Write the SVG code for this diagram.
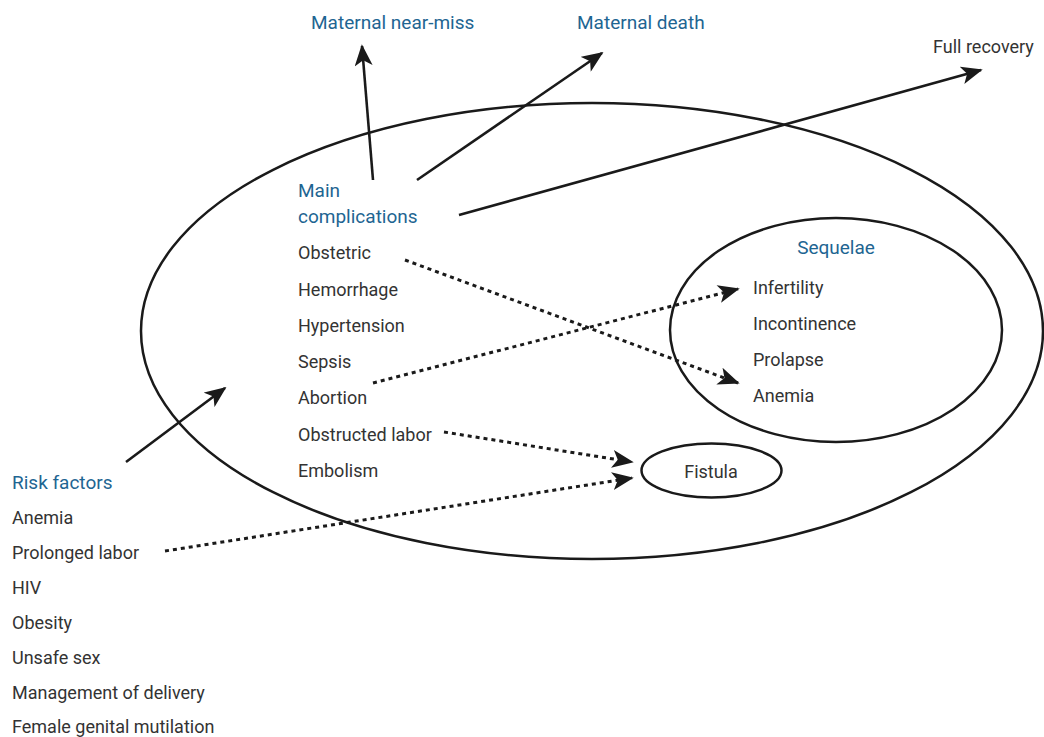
<svg xmlns="http://www.w3.org/2000/svg" width="1044" height="737" viewBox="0 0 1044 737">
<style>
.t{font-family:"Liberation Sans Narrow","Roboto","Liberation Sans",sans-serif;font-size:18px;fill:#333}
.b{font-family:"Liberation Sans Narrow","Roboto","Liberation Sans",sans-serif;font-size:19px;fill:#1e6592}
.e{fill:none;stroke:#1a1a1a;stroke-width:2.5}
.s{fill:none;stroke:#1a1a1a;stroke-width:2.6}
.d{fill:none;stroke:#1a1a1a;stroke-width:3;stroke-dasharray:4 4}
</style>
<defs>
<marker id="ah" viewBox="0 0 12 10" refX="11" refY="5" markerWidth="10" markerHeight="8" markerUnits="userSpaceOnUse" orient="auto">
<path d="M0,0 L12,5 L0,10 L3,5 Z" fill="#1a1a1a"/>
</marker>
<marker id="ahb" viewBox="0 0 12 10" refX="11" refY="5" markerWidth="22" markerHeight="18" markerUnits="userSpaceOnUse" orient="auto">
<path d="M0,0 L12,5 L0,10 L3,5 Z" fill="#1a1a1a"/>
</marker>
</defs>
<g id="outer"><ellipse class="e" cx="592" cy="331" rx="451" ry="228"/></g>
<g id="sequelae"><ellipse class="e" cx="836" cy="330" rx="166" ry="112"/>
<text class="b" x="836" y="254" text-anchor="middle">Sequelae</text>
<text class="t" x="753" y="294">Infertility</text>
<text class="t" x="753" y="330">Incontinence</text>
<text class="t" x="753" y="366">Prolapse</text>
<text class="t" x="753" y="402">Anemia</text>
</g>
<g id="fistula"><ellipse class="e" cx="711.5" cy="470.5" rx="70" ry="27"/>
<text class="t" x="711" y="478" text-anchor="middle">Fistula</text></g>
<g id="near-miss"><text class="b" x="311" y="29">Maternal near-miss</text></g>
<g id="death"><text class="b" x="577" y="29">Maternal death</text></g>
<g id="recovery"><text class="t" x="933" y="53">Full recovery</text></g>
<g id="complications">
<text class="b" x="298" y="197">Main</text>
<text class="b" x="298" y="223">complications</text>
<text class="t" x="298" y="259">Obstetric</text>
<text class="t" x="298" y="296">Hemorrhage</text>
<text class="t" x="298" y="332">Hypertension</text>
<text class="t" x="298" y="368">Sepsis</text>
<text class="t" x="298" y="404">Abortion</text>
<text class="t" x="298" y="441">Obstructed labor</text>
<text class="t" x="298" y="477">Embolism</text>
</g>
<g id="risk">
<text class="b" x="12" y="489">Risk factors</text>
<text class="t" x="12" y="524">Anemia</text>
<text class="t" x="12" y="559">Prolonged labor</text>
<text class="t" x="12" y="594">HIV</text>
<text class="t" x="12" y="629">Obesity</text>
<text class="t" x="12" y="664">Unsafe sex</text>
<text class="t" x="12" y="699">Management of delivery</text>
<text class="t" x="12" y="733">Female genital mutilation</text>
</g>
<g id="connectors">
<line class="s" x1="373" y1="180" x2="362" y2="46" marker-end="url(#ahb)"/>
<line class="s" x1="417" y1="180" x2="602" y2="53" marker-end="url(#ahb)"/>
<line class="s" x1="459" y1="215" x2="981" y2="70" marker-end="url(#ahb)"/>
<line class="s" x1="126" y1="462" x2="225" y2="388" marker-end="url(#ahb)"/>
<line class="d" x1="405" y1="260" x2="738" y2="383" marker-end="url(#ahb)"/>
<line class="d" x1="373" y1="383" x2="738" y2="289" marker-end="url(#ahb)"/>
<line class="d" x1="444" y1="432" x2="632" y2="462" marker-end="url(#ahb)"/>
<line class="d" x1="165" y1="551" x2="632" y2="478" marker-end="url(#ahb)"/>
</g>
</svg>
